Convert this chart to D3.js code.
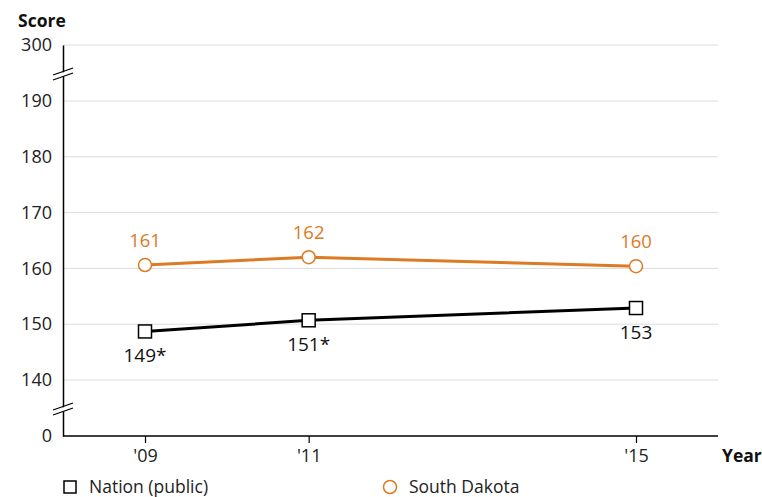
<!DOCTYPE html>
<html>
<head>
<meta charset="utf-8">
<script src="https://cdn.jsdelivr.net/npm/d3@7"></script>
<style>
  body { margin: 0; background: #fff; }
  text { font-family: "Open Sans", sans-serif; }
</style>
</head>
<body>
<svg width="762" height="497"></svg>
<script>
// data
var years = [2009, 2011, 2015];
var yearLabels = ["'09", "'11", "'15"];
var nation = [148.7, 150.7, 152.9];
var nationLabels = ["149*", "151*", "153"];
var dakota = [160.6, 162.0, 160.4];
var dakotaLabels = ["161", "162", "160"];
var yTicks = [0, 140, 150, 160, 170, 180, 190, 300];

var orange = '#dd7a24';
var svg = d3.select('svg');

// broken axis: 0 and 300 sit outside the 140-190 stretch
var scaleY = d3.scaleLinear().domain([0, 140, 190, 300]).range([436, 380, 101, 45]);
var scaleX = d3.scaleLinear().domain([2009, 2015]).range([145, 636]);
var left = 63, right = 718;

// gridlines
svg.selectAll('.grid')
    .data(yTicks.filter(function(d){ return d > 0; }))
    .enter()
    .append('line')
    .attr('x1', left).attr('x2', right)
    .attr('y1', function(d){ return scaleY(d); })
    .attr('y2', function(d){ return scaleY(d); })
    .attr('stroke', '#dcdcdc')
    .attr('stroke-width', 1);

// y axis
var yAxis = svg.append('g')
    .attr('transform', 'translate(' + left + ',0)')
    .call(d3.axisLeft(scaleY).tickValues(yTicks).tickSize(0).tickPadding(11));
yAxis.select('.domain').attr('stroke', '#000').attr('stroke-width', 1.5);
yAxis.selectAll('text').attr('font-size', 18).attr('fill', '#222')
    .style('font-family', '"Open Sans", sans-serif');

// x axis
var xAxis = svg.append('g')
    .attr('transform', 'translate(0,' + scaleY(0) + ')')
    .call(d3.axisBottom(scaleX).tickValues(years)
        .tickFormat(function(d, i){ return yearLabels[i]; })
        .tickSize(7).tickPadding(6));
xAxis.select('.domain').attr('d', 'M' + left + ',0H' + right)
    .attr('stroke', '#000').attr('stroke-width', 1.5);
xAxis.selectAll('.tick line').attr('stroke', '#000').attr('stroke-width', 1.2);
xAxis.selectAll('text').attr('font-size', 18).attr('fill', '#222')
    .style('font-family', '"Open Sans", sans-serif');

// axis break marks
[72, 407].forEach(function(yb){
    var g = svg.append('g').attr('transform', 'translate(' + left + ',' + yb + ')');
    g.append('polygon')
        .attr('points', '-10,4 10,-3 10,1 -10,8')
        .attr('fill', '#fff');
    g.append('line').attr('x1', -10).attr('y1', 3).attr('x2', 10).attr('y2', -4)
        .attr('stroke', '#000').attr('stroke-width', 1.3);
    g.append('line').attr('x1', -10).attr('y1', 8).attr('x2', 10).attr('y2', 1)
        .attr('stroke', '#000').attr('stroke-width', 1.3);
});

// axis titles
svg.append('text').text('Score')
    .attr('x', 18).attr('y', 27)
    .attr('font-size', 17.5).attr('font-weight', 'bold').attr('fill', '#111');
svg.append('text').text('Year')
    .attr('x', 722).attr('y', 462)
    .attr('font-size', 17.5).attr('font-weight', 'bold').attr('fill', '#111');

var line = d3.line()
    .x(function(d, i){ return scaleX(years[i]); })
    .y(function(d){ return scaleY(d); });

// nation series
svg.append('path').datum(nation)
    .attr('d', line).attr('fill', 'none')
    .attr('stroke', '#000').attr('stroke-width', 3);
svg.selectAll('.nationPoint')
    .data(nation)
    .enter()
    .append('rect')
    .attr('x', function(d, i){ return scaleX(years[i]) - 6.5; })
    .attr('y', function(d){ return scaleY(d) - 6.5; })
    .attr('width', 13).attr('height', 13)
    .attr('fill', '#fff').attr('stroke', '#000').attr('stroke-width', 1.5);
svg.selectAll('.nationLabel')
    .data(nation)
    .enter()
    .append('text')
    .text(function(d, i){ return nationLabels[i]; })
    .attr('x', function(d, i){ return scaleX(years[i]); })
    .attr('y', function(d){ return scaleY(d) + 31; })
    .attr('text-anchor', 'middle')
    .attr('font-size', 19).attr('fill', '#111');

// south dakota series
svg.append('path').datum(dakota)
    .attr('d', line).attr('fill', 'none')
    .attr('stroke', orange).attr('stroke-width', 3);
svg.selectAll('.dakotaPoint')
    .data(dakota)
    .enter()
    .append('circle')
    .attr('cx', function(d, i){ return scaleX(years[i]); })
    .attr('cy', function(d){ return scaleY(d); })
    .attr('r', 6.5)
    .attr('fill', '#fff').attr('stroke', orange).attr('stroke-width', 1.5);
svg.selectAll('.dakotaLabel')
    .data(dakota)
    .enter()
    .append('text')
    .text(function(d, i){ return dakotaLabels[i]; })
    .attr('x', function(d, i){ return scaleX(years[i]); })
    .attr('y', function(d){ return scaleY(d) - 18; })
    .attr('text-anchor', 'middle')
    .attr('font-size', 18.5).attr('fill', orange);

// legend
svg.append('rect')
    .attr('x', 64).attr('y', 481).attr('width', 12).attr('height', 12)
    .attr('fill', '#fff').attr('stroke', '#000').attr('stroke-width', 1.5);
svg.append('text').text('Nation (public)')
    .attr('x', 89).attr('y', 493).attr('font-size', 17.5).attr('fill', '#222');
svg.append('circle')
    .attr('cx', 390).attr('cy', 487).attr('r', 6.5)
    .attr('fill', '#fff').attr('stroke', orange).attr('stroke-width', 1.5);
svg.append('text').text('South Dakota')
    .attr('x', 409).attr('y', 493).attr('font-size', 17.5).attr('fill', '#222');
</script>
</body>
</html>
